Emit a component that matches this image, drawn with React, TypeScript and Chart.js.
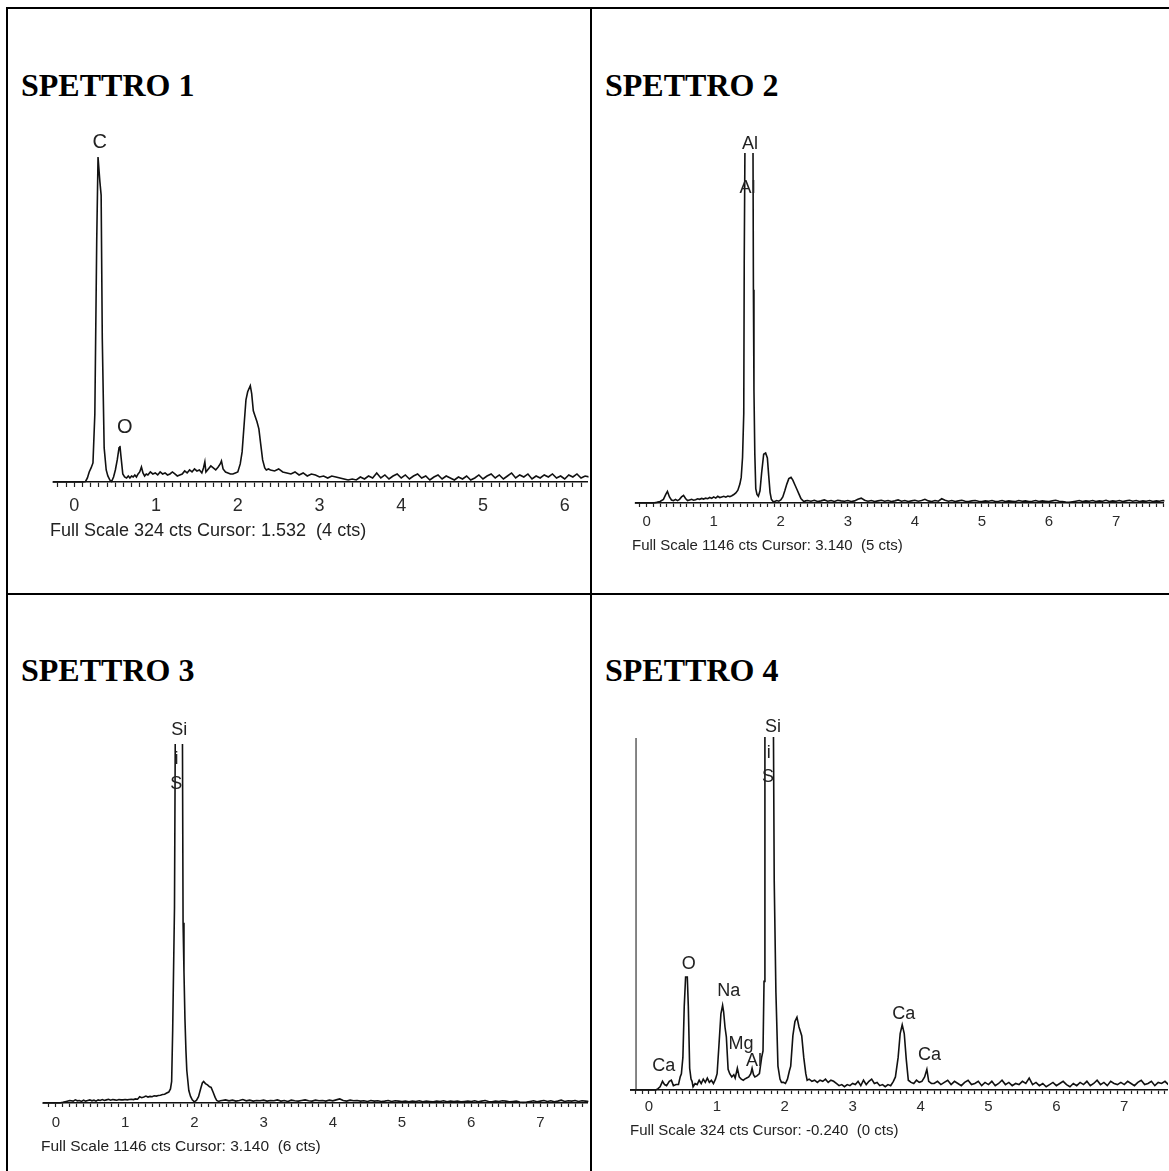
import React, { useEffect, useRef } from 'react';
import { Chart, registerables } from 'chart.js';

Chart.register(...registerables);

type Pt = [number, number];
type Lbl = [string, number, number, number?];

// ---------- shared ----------
const X_TICK_LABELS = ['0', '1', '2', '3', '4', '5', '6', '7'];
const MINOR_TICK_STEP = 0.1;

// ---------- SPETTRO 1 ----------
const S1_TITLE = 'SPETTRO 1';
const S1_FOOTER = 'Full Scale 324 cts Cursor: 1.532  (4 cts)';
const S1_FULL_SCALE = 324;
const S1_PEAKS: Pt[] = [
  [-0.3, 0], [0.1, 0], [0.137, 0.5], [0.16, 4], [0.182, 10], [0.205, 14], [0.228, 19], [0.251, 68],
  [0.274, 241], [0.29, 324], [0.3, 324], [0.312, 300], [0.328, 286], [0.342, 143], [0.365, 34],
  [0.39, 12], [0.41, 6], [0.435, 2], [0.456, 0.5], [0.48, 5], [0.502, 12], [0.525, 22], [0.547, 34],
  [0.558, 36], [0.57, 26], [0.593, 8], [0.615, 5], [0.639, 4], [0.66, 6], [0.68, 4], [0.7, 6],
  [0.72, 5], [0.74, 7], [0.76, 5], [0.78, 8], [0.8, 10], [0.821, 15], [0.84, 9], [0.86, 6], [0.88, 8],
  [0.9, 7], [0.93, 10], [0.96, 8], [0.99, 9], [1.02, 7], [1.05, 10], [1.08, 8], [1.11, 9], [1.14, 7],
  [1.17, 8], [1.2, 10], [1.23, 8], [1.26, 6], [1.29, 7], [1.32, 8], [1.35, 11], [1.38, 9], [1.41, 12],
  [1.44, 10], [1.47, 13], [1.5, 11], [1.53, 12], [1.56, 9], [1.58, 14], [1.597, 20], [1.61, 10],
  [1.64, 13], [1.67, 16], [1.7, 14], [1.73, 12], [1.76, 15], [1.785, 18], [1.8, 21], [1.82, 13],
  [1.85, 10], [1.88, 9], [1.91, 8], [1.94, 8], [1.97, 9], [2.0, 10], [2.03, 18], [2.053, 30],
  [2.08, 60], [2.1, 82], [2.121, 90], [2.153, 96], [2.17, 88], [2.19, 71], [2.21, 66], [2.235, 60],
  [2.258, 53], [2.28, 38], [2.304, 22], [2.33, 14], [2.349, 12], [2.375, 13],
];
const S1_TAIL_START = 2.4;
const S1_TAIL_STEP = 0.05;
const S1_TAIL: number[] = [
  12, 11, 13, 10, 9, 8, 10, 7, 9, 6, 8, 7, 5,
  6, 4, 6, 5, 4, 3, 2, 3, 2, 5, 3, 6, 4, 9, 4, 7, 3, 6, 8,
  4, 7, 3, 6, 8, 4, 6, 2, 5, 7, 3, 6, 4, 2, 5, 3, 6, 2, 4, 7,
  3, 6, 8, 4, 7, 3, 6, 9, 4, 7, 5, 8, 3, 6, 4, 7, 5, 8, 4, 6,
  3, 7, 5, 8, 4, 6, 5,
];
const S1_LABELS: Lbl[] = [['C', 0.31, 338], ['O', 0.616, 54]];

// ---------- SPETTRO 2 ----------
const S2_TITLE = 'SPETTRO 2';
const S2_FOOTER = 'Full Scale 1146 cts Cursor: 3.140  (5 cts)';
const S2_FULL_SCALE = 1146;
const S2_PEAKS: Pt[] = [
  [-0.3, 0], [0.1, 0], [0.15, 2], [0.2, 5], [0.25, 12], [0.285, 28], [0.31, 38], [0.34, 20], [0.37, 10],
  [0.4, 8], [0.43, 12], [0.46, 8], [0.49, 12], [0.52, 20], [0.55, 25], [0.58, 15], [0.61, 8], [0.64, 10],
  [0.67, 12], [0.7, 9], [0.73, 11], [0.76, 14], [0.79, 12], [0.82, 15], [0.85, 13], [0.88, 16], [0.91, 14],
  [0.94, 18], [0.97, 15], [1.0, 20], [1.03, 16], [1.06, 22], [1.09, 18], [1.12, 20], [1.15, 22], [1.18, 19],
  [1.21, 23], [1.24, 21], [1.27, 24], [1.3, 28], [1.33, 33], [1.36, 42], [1.39, 62], [1.41, 84], [1.43, 150],
  [1.448, 294], [1.455, 790], [1.475, 1500], [1.52, 1700], [1.56, 1600], [1.584, 1300], [1.592, 700],
  [1.6, 370], [1.613, 160], [1.627, 47], [1.645, 28], [1.666, 22], [1.69, 40], [1.715, 100], [1.745, 160],
  [1.774, 164], [1.8, 148], [1.82, 90], [1.84, 35], [1.86, 12], [1.882, 6], [1.91, 5], [1.94, 8], [1.97, 6],
  [2.0, 10], [2.03, 20], [2.06, 40], [2.09, 62], [2.12, 80], [2.153, 84], [2.18, 75], [2.21, 60], [2.24, 45],
  [2.27, 30], [2.3, 15], [2.343, 5], [2.37, 7],
];
const S2_TAIL_START = 2.4;
const S2_TAIL_STEP = 0.05;
const S2_TAIL: number[] = [
  8, 6, 9, 5, 7, 10, 6, 8, 5, 9, 7, 6,
  8, 5, 7, 12, 16, 9, 6, 8, 5, 7, 9, 6, 8, 5, 7, 10, 6, 8, 5, 7,
  9, 6, 8, 12, 7, 5, 8, 6, 14, 9, 6, 8, 5, 7, 9, 6, 5, 7, 8, 6,
  5, 7, 6, 8, 5, 6, 8, 5, 7, 6, 5, 8, 6, 7, 5, 6, 8, 5, 7, 6,
  5, 7, 9, 6, 5, 3, 2, 4, 6, 8, 5, 7, 6, 8, 5, 7, 6, 9, 5, 7,
  6, 8, 5, 7, 9, 6, 8, 5, 7, 6, 8, 5, 7, 6, 8, 6,
];
const S2_LABELS: Lbl[] = [['Al', 1.54, 1179], ['Al', 1.503, 1035]];

// ---------- SPETTRO 3 ----------
const S3_TITLE = 'SPETTRO 3';
const S3_FOOTER = 'Full Scale 1146 cts Cursor: 3.140  (6 cts)';
const S3_FULL_SCALE = 1146;
const S3_PEAKS: Pt[] = [
  [-0.3, 0], [0.05, 0], [0.1, 2], [0.15, 5], [0.2, 8], [0.25, 6], [0.28, 10], [0.31, 7], [0.34, 8],
  [0.37, 5], [0.4, 9], [0.43, 6], [0.46, 8], [0.49, 10], [0.52, 7], [0.55, 9], [0.58, 6], [0.61, 10],
  [0.64, 8], [0.67, 11], [0.7, 8], [0.73, 10], [0.76, 12], [0.79, 9], [0.82, 11], [0.85, 10], [0.88, 9],
  [0.91, 11], [0.94, 10], [0.97, 10], [1.0, 11], [1.03, 10], [1.06, 11], [1.09, 12], [1.12, 11], [1.15, 13],
  [1.18, 12], [1.21, 20], [1.24, 17], [1.27, 19], [1.3, 22], [1.33, 19], [1.36, 21], [1.39, 20], [1.42, 23],
  [1.45, 22], [1.48, 24], [1.51, 25], [1.54, 27], [1.57, 28], [1.594, 31], [1.63, 35], [1.655, 45],
  [1.672, 69], [1.687, 234], [1.713, 625], [1.729, 1400], [1.77, 1700], [1.8, 1600], [1.826, 1300],
  [1.837, 577], [1.85, 420], [1.864, 270], [1.878, 170], [1.891, 104], [1.92, 40], [1.945, 21], [1.97, 10],
  [1.999, 4], [2.03, 8], [2.06, 20], [2.09, 45], [2.115, 64], [2.134, 69], [2.16, 62], [2.19, 58],
  [2.22, 52], [2.242, 50], [2.27, 35], [2.3, 18], [2.323, 8], [2.35, 5], [2.375, 7],
];
const S3_TAIL_START = 2.4;
const S3_TAIL_STEP = 0.05;
const S3_TAIL: number[] = [
  8, 10, 7, 9, 6, 8, 11, 7, 9, 6, 8, 7,
  9, 6, 8, 7, 10, 6, 8, 5, 9, 7, 6, 8, 10, 7, 6, 9, 7, 8, 6, 9,
  7, 10, 13, 8, 6, 9, 7, 8, 6, 7, 5, 8, 6, 7, 5, 6, 8, 5, 7, 6,
  5, 6, 4, 6, 5, 7, 4, 6, 5, 4, 6, 5, 7, 4, 6, 5, 6, 4, 5, 6,
  5, 7, 4, 6, 8, 5, 4, 6, 5, 7, 6, 4, 5, 6, 3, 2, 3, 5, 7, 4,
  6, 8, 5, 7, 4, 6, 9, 5, 7, 6, 8, 5, 7, 6, 5,
];
const S3_LABELS: Lbl[] = [['Si', 1.783, 1193], ['i', 1.742, 1102], ['S', 1.737, 1020]];

// ---------- SPETTRO 4 ----------
const S4_TITLE = 'SPETTRO 4';
const S4_FOOTER = 'Full Scale 324 cts Cursor: -0.240  (0 cts)';
const S4_FULL_SCALE = 324;
const S4_CURSOR = -0.19;
const S4_PEAKS: Pt[] = [
  [-0.3, 0], [0.1, 0], [0.13, 1], [0.164, 3], [0.2, 8], [0.23, 5], [0.26, 4], [0.3, 8], [0.33, 9],
  [0.36, 4], [0.4, 5], [0.435, 5], [0.46, 12], [0.478, 15], [0.5, 30], [0.52, 77], [0.54, 104],
  [0.565, 104], [0.58, 77], [0.6, 20], [0.62, 10], [0.635, 8], [0.65, 3], [0.68, 6], [0.71, 5], [0.74, 9],
  [0.77, 6], [0.8, 10], [0.83, 7], [0.86, 11], [0.89, 7], [0.92, 9], [0.95, 6], [0.98, 10], [1.004, 15],
  [1.03, 40], [1.06, 70], [1.085, 78], [1.1, 72], [1.12, 58], [1.14, 49], [1.166, 19], [1.19, 15],
  [1.22, 12], [1.25, 14], [1.27, 11], [1.302, 20], [1.33, 12], [1.36, 10], [1.39, 9], [1.41, 10],
  [1.44, 11], [1.47, 12], [1.5, 15], [1.519, 20], [1.54, 14], [1.56, 12], [1.59, 13], [1.627, 15],
  [1.66, 30], [1.68, 36], [1.695, 100], [1.708, 400], [1.75, 900], [1.8, 800], [1.828, 400],
  [1.845, 193], [1.87, 90], [1.9, 22], [1.93, 10], [1.952, 7], [1.98, 7], [2.01, 6], [2.04, 10],
  [2.07, 18], [2.088, 22], [2.12, 50], [2.15, 63], [2.18, 67], [2.21, 58], [2.25, 50], [2.28, 30],
  [2.31, 15], [2.33, 9], [2.36, 10], [2.4, 8], [2.44, 9], [2.48, 7], [2.52, 9], [2.56, 8], [2.6, 10],
  [2.64, 7], [2.68, 9], [2.72, 8], [2.76, 6], [2.8, 4], [2.84, 5], [2.88, 3], [2.92, 5], [2.96, 4],
  [3.0, 6], [3.04, 5], [3.08, 8], [3.12, 4], [3.16, 9], [3.2, 5], [3.24, 8], [3.28, 10], [3.32, 6],
  [3.36, 7], [3.4, 4], [3.44, 5], [3.48, 3], [3.52, 5], [3.56, 4], [3.6, 8], [3.63, 12], [3.67, 30],
  [3.7, 52], [3.73, 60], [3.76, 52], [3.79, 28], [3.82, 9], [3.86, 7], [3.9, 6], [3.94, 9], [3.98, 7],
  [4.02, 8], [4.06, 12], [4.093, 19], [4.12, 8], [4.16, 6],
];
const S4_TAIL_START = 4.2;
const S4_TAIL_STEP = 0.05;
const S4_TAIL: number[] = [
  6, 8, 5, 7, 9, 5, 8, 6, 4, 7, 9, 5, 6, 8, 4, 7,
  5, 8, 4, 6, 9, 5, 7, 4, 6, 5, 8, 6, 11, 5, 7, 4, 6, 3, 5, 7,
  4, 6, 8, 5, 3, 6, 4, 7, 5, 8, 4, 6, 9, 5, 7, 4, 8, 6, 5, 7,
  5, 8, 6, 4, 7, 9, 5, 6, 8, 4, 7, 6, 8, 5,
];
const S4_LABELS: Lbl[] = [
  ['Si', 1.828, 334], ['i', 1.763, 310], ['S', 1.752, 288], ['O', 0.587, 116], ['Na', 1.177, 91],
  ['Mg', 1.356, 42], ['Al', 1.546, 27], ['Ca', 0.218, 22], ['Ca', 3.752, 70], ['Ca', 4.131, 32.5],
];

// ---------- layout (positions / sizes / styles) ----------
interface Panel {
  title: string; footer: string; fullScale: number;
  peaks: Pt[]; tailStart: number; tailStep: number; tail: number[]; labels: Lbl[]; cursor?: number;
  titleLeft: number; titleTop: number;
  left: number; top: number; width: number; plotTop: number; plotBottom: number; axisH: number;
  xMin: number; xMax: number; tickFont: number; tickPad: number; tickLen: number; labelFont: number;
  footerLeft: number; footerTop: number; footerFont: number;
}

const PANELS: Panel[] = [
  {
    title: S1_TITLE, footer: S1_FOOTER, fullScale: S1_FULL_SCALE, peaks: S1_PEAKS,
    tailStart: S1_TAIL_START, tailStep: S1_TAIL_STEP, tail: S1_TAIL, labels: S1_LABELS,
    titleLeft: 21, titleTop: 69, left: 50, top: 120, width: 539, plotTop: 157, plotBottom: 482, axisH: 40,
    xMin: -0.2545, xMax: 6.2788, tickFont: 18, tickPad: 8, tickLen: 5, labelFont: 20,
    footerLeft: 50, footerTop: 520, footerFont: 18,
  },
  {
    title: S2_TITLE, footer: S2_FOOTER, fullScale: S2_FULL_SCALE, peaks: S2_PEAKS,
    tailStart: S2_TAIL_START, tailStep: S2_TAIL_STEP, tail: S2_TAIL, labels: S2_LABELS,
    titleLeft: 605, titleTop: 69, left: 634, top: 120, width: 535, plotTop: 154, plotBottom: 503, axisH: 36,
    xMin: -0.1618, xMax: 7.7059, tickFont: 15, tickPad: 6, tickLen: 4, labelFont: 18,
    footerLeft: 632, footerTop: 536, footerFont: 15,
  },
  {
    title: S3_TITLE, footer: S3_FOOTER, fullScale: S3_FULL_SCALE, peaks: S3_PEAKS,
    tailStart: S3_TAIL_START, tailStep: S3_TAIL_STEP, tail: S3_TAIL, labels: S3_LABELS,
    titleLeft: 21, titleTop: 654, left: 42, top: 700, width: 547, plotTop: 745, plotBottom: 1103, axisH: 36,
    xMin: -0.181, xMax: 7.678, tickFont: 15, tickPad: 7, tickLen: 4, labelFont: 18,
    footerLeft: 41, footerTop: 1137, footerFont: 15.5,
  },
  {
    title: S4_TITLE, footer: S4_FOOTER, fullScale: S4_FULL_SCALE, peaks: S4_PEAKS,
    tailStart: S4_TAIL_START, tailStep: S4_TAIL_STEP, tail: S4_TAIL, labels: S4_LABELS, cursor: S4_CURSOR,
    titleLeft: 605, titleTop: 654, left: 630, top: 700, width: 539, plotTop: 738, plotBottom: 1090, axisH: 36,
    xMin: -0.2788, xMax: 7.631, tickFont: 15, tickPad: 4, tickLen: 4, labelFont: 18,
    footerLeft: 630, footerTop: 1121, footerFont: 15,
  },
];

const SANS = '"Liberation Sans", Arial, Helvetica, sans-serif';
const SERIF = '"Liberation Serif", "Times New Roman", Times, serif';

const peakLabelPlugin = {
  id: 'peakLabels',
  afterDatasetsDraw(chart: any, _args: any, opts: any) {
    const { ctx, scales } = chart;
    const xs = scales.x, ys = scales.y;
    (opts.labels as Lbl[]).forEach((l) => {
      const px = xs.getPixelForValue(l[1]);
      const py = ys.getPixelForValue(l[2]);
      ctx.save();
      ctx.font = `${opts.size}px ${SANS}`;
      ctx.fillStyle = '#222';
      ctx.textAlign = 'center';
      ctx.textBaseline = 'middle';
      ctx.translate(px, py);
      if (l[3]) ctx.rotate((l[3] * Math.PI) / 180);
      ctx.fillText(l[0], 0, 0);
      ctx.restore();
    });
  },
};

function buildPoints(p: Panel) {
  const pts = p.peaks.map(([x, y]) => ({ x, y }));
  p.tail.forEach((c, i) => pts.push({ x: Math.round((p.tailStart + i * p.tailStep) * 1000) / 1000, y: c }));
  return pts;
}

function SpectrumChart({ p }: { p: Panel }) {
  const ref = useRef<HTMLCanvasElement | null>(null);
  const height = p.plotBottom - p.top + p.axisH;
  useEffect(() => {
    if (!ref.current) return;
    const datasets: any[] = [
      {
        data: buildPoints(p),
        borderColor: '#111',
        borderWidth: 1.6,
        pointRadius: 0,
        tension: 0,
        fill: false,
        clip: 1,
      },
    ];
    if (p.cursor !== undefined) {
      datasets.push({
        data: [{ x: p.cursor, y: 0 }, { x: p.cursor, y: p.fullScale }],
        borderColor: '#444',
        borderWidth: 1.3,
        pointRadius: 0,
        fill: false,
        clip: 1,
      });
    }
    const chart = new Chart(ref.current, {
      type: 'line',
      data: { datasets },
      plugins: [peakLabelPlugin as any],
      options: {
        responsive: false,
        animation: false,
        devicePixelRatio: 1,
        events: [],
        layout: { padding: { top: p.plotTop - p.top, left: 0, right: 0, bottom: 0 } },
        plugins: {
          legend: { display: false },
          tooltip: { enabled: false },
          title: { display: false },
          peakLabels: { labels: p.labels, size: p.labelFont },
        } as any,
        scales: {
          x: {
            type: 'linear',
            min: p.xMin,
            max: p.xMax,
            afterBuildTicks: (scale: any) => {
              const ticks: { value: number }[] = [];
              const a = Math.ceil(scale.min / MINOR_TICK_STEP - 1e-9);
              const b = Math.floor(scale.max / MINOR_TICK_STEP + 1e-9);
              for (let i = a; i <= b; i++) ticks.push({ value: Math.round(i * MINOR_TICK_STEP * 1000) / 1000 });
              scale.ticks = ticks;
            },
            afterFit: (scale: any) => {
              scale.height = p.axisH;
            },
            ticks: {
              autoSkip: false,
              maxRotation: 0,
              minRotation: 0,
              padding: p.tickPad,
              color: '#2a2a2a',
              font: { family: SANS, size: p.tickFont },
              callback: (v: any) => {
                const n = Number(v);
                const r = Math.round(n);
                return Math.abs(n - r) < 1e-6 && r >= 0 && r < X_TICK_LABELS.length ? X_TICK_LABELS[r] : '';
              },
            },
            grid: {
              display: true,
              drawOnChartArea: false,
              drawTicks: true,
              tickLength: p.tickLen,
              tickColor: '#222',
              tickWidth: 1.2,
            },
            border: { display: true, color: '#111', width: 1.6 },
          },
          y: {
            type: 'linear',
            display: false,
            min: 0,
            max: p.fullScale,
          },
        },
      } as any,
    });
    return () => chart.destroy();
  }, [p]);
  return (
    <canvas
      ref={ref}
      width={p.width}
      height={height}
      style={{ position: 'absolute', left: p.left, top: p.top, width: p.width, height, display: 'block' }}
    />
  );
}

export default function App() {
  return (
    <div
      style={{
        position: 'absolute', left: 0, top: 0, width: 1169, height: 1171,
        background: '#fff', overflow: 'hidden',
      }}
    >
      {PANELS.map((p, i) => (
        <React.Fragment key={i}>
          <div
            style={{
              position: 'absolute', left: p.titleLeft, top: p.titleTop, fontFamily: SERIF,
              fontWeight: 'bold', fontSize: 32, lineHeight: '32px', color: '#000', whiteSpace: 'pre',
            }}
          >
            {p.title}
          </div>
          <SpectrumChart p={p} />
          <div
            style={{
              position: 'absolute', left: p.footerLeft, top: p.footerTop, fontFamily: SANS,
              fontSize: p.footerFont, lineHeight: `${p.footerFont * 1.2}px`, color: '#222', whiteSpace: 'pre',
            }}
          >
            {p.footer}
          </div>
        </React.Fragment>
      ))}
      {/* table borders */}
      <div style={{ position: 'absolute', left: 6, top: 7, width: 1163, height: 2, background: '#000' }} />
      <div style={{ position: 'absolute', left: 6, top: 7, width: 2, height: 1164, background: '#000' }} />
      <div style={{ position: 'absolute', left: 590, top: 7, width: 2, height: 1164, background: '#000' }} />
      <div style={{ position: 'absolute', left: 6, top: 593, width: 1163, height: 2, background: '#000' }} />
    </div>
  );
}
